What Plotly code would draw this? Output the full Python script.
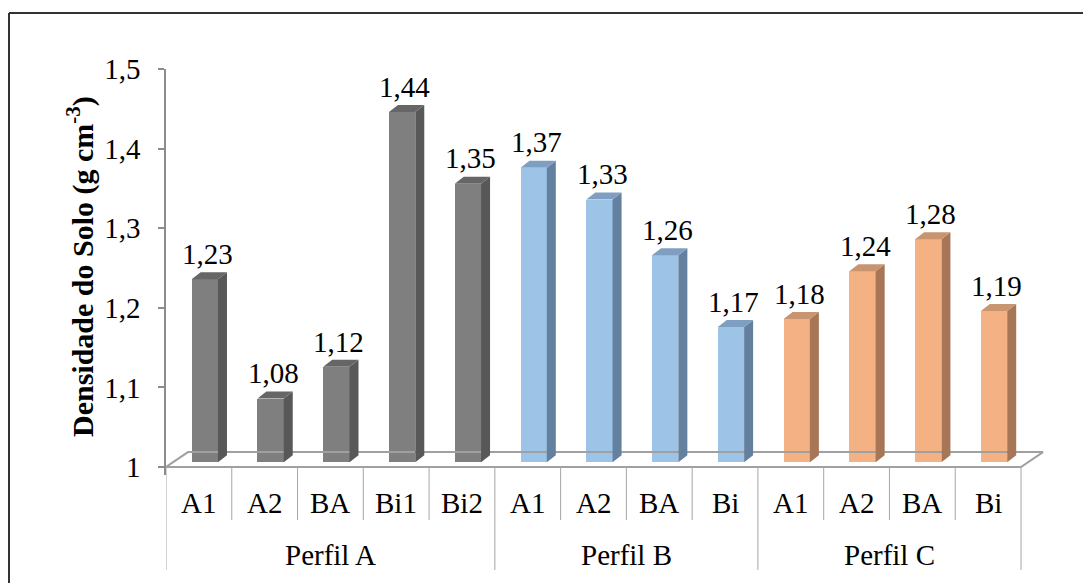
import plotly.graph_objects as go

# Soil bulk density per horizon, three profiles
profiles = ["Perfil A", "Perfil B", "Perfil C"]
horizons = [
    ["A1", "A2", "BA", "Bi1", "Bi2"],
    ["A1", "A2", "BA", "Bi"],
    ["A1", "A2", "BA", "Bi"],
]
density = [
    [1.23, 1.08, 1.12, 1.44, 1.35],
    [1.37, 1.33, 1.26, 1.17],
    [1.18, 1.24, 1.28, 1.19],
]
y_ticks = [1.0, 1.1, 1.2, 1.3, 1.4, 1.5]

# face colours per profile: front, side, top
palette = [
    ("#7f7f7f", "#585858", "#666666"),
    ("#9dc3e6", "#64809f", "#7f9fc2"),
    ("#f4b183", "#a67656", "#c99470"),
]

FONT = "'Liberation Serif', 'Times New Roman', Times, serif"
TXT = 29
BASE = 1.0
# pseudo-3D geometry in axis units
BAR_W = 0.40      # front-face width (category units)
BAR_SHIFT = 0.09  # front face offset inside its slot
LIFT = 0.006      # front face raised above floor front edge
DEPTH_X = 0.137   # bar depth, x component
DEPTH_Y = 0.0088  # bar depth, y component
FLOOR_X = 0.334   # floor depth, x component
FLOOR_Y = 0.0188  # floor depth, y component

W, H = 1083, 583
L, R, T, B = 166, 36, 69, 108
plot_w = W - L - R
plot_h = H - T - B
n_cat = sum(len(h) for h in horizons)
unit_px = 855 / n_cat
x_max = -0.5 + plot_w / unit_px


def py(pixel_y):
    """paper y for a pixel row"""
    return (H - B - pixel_y) / plot_h


def px(pixel_x):
    """paper x for a pixel column"""
    return (pixel_x - L) / plot_w


fig = go.Figure()

# floor parallelogram
x0, x1 = -0.5, n_cat - 0.5
fig.add_trace(go.Scatter(
    x=[x0, x1, x1 + FLOOR_X, x0 + FLOOR_X, x0],
    y=[BASE, BASE, BASE + FLOOR_Y, BASE + FLOOR_Y, BASE],
    mode="lines", line=dict(color="#a0a0a0", width=2),
    hoverinfo="skip", showlegend=False,
))

annotations = []
shapes = []
idx = 0
for g, (name, labels, vals) in enumerate(zip(profiles, horizons, density)):
    front, side, top = palette[g]
    xs = [idx + k + BAR_SHIFT for k in range(len(vals))]
    fig.add_trace(go.Bar(
        x=xs, y=[v - BASE for v in vals], base=[BASE + LIFT] * len(vals),
        width=BAR_W, marker=dict(color=front, line=dict(width=0)),
        showlegend=False, hoverinfo="skip",
    ))
    for xc, v in zip(xs, vals):
        left, right = xc - BAR_W / 2, xc + BAR_W / 2
        b0, t0 = BASE + LIFT, v + LIFT
        # side face
        fig.add_trace(go.Scatter(
            x=[right, right + DEPTH_X, right + DEPTH_X, right, right],
            y=[b0, b0 + DEPTH_Y, t0 + DEPTH_Y, t0, b0],
            fill="toself", fillcolor=side, mode="lines",
            line=dict(width=0, color=side), hoverinfo="skip", showlegend=False,
        ))
        # top face
        fig.add_trace(go.Scatter(
            x=[left, left + DEPTH_X, right + DEPTH_X, right, left],
            y=[t0, t0 + DEPTH_Y, t0 + DEPTH_Y, t0, t0],
            fill="toself", fillcolor=top, mode="lines",
            line=dict(width=0, color=top), hoverinfo="skip", showlegend=False,
        ))
        annotations.append(dict(
            x=xc + 0.04, y=v, xref="x", yref="y", yanchor="middle",
            yshift=30, showarrow=False,
            text=f"{v:.2f}".replace(".", ","),
            font=dict(family=FONT, size=TXT, color="black"),
        ))
    for k, lab in enumerate(labels):
        annotations.append(dict(
            x=idx + k, y=py(503), xref="x", yref="paper", yanchor="middle",
            showarrow=False, text=lab,
            font=dict(family=FONT, size=TXT, color="black"),
        ))
    annotations.append(dict(
        x=idx + (len(labels) - 1) / 2, y=py(555), xref="x", yref="paper",
        yanchor="middle", showarrow=False, text=name,
        font=dict(family=FONT, size=TXT, color="black"),
    ))
    idx += len(labels)

# category dividers; profile boundaries run down through the group row
bounds = set()
acc = 0
bounds.add(acc)
for labels in horizons:
    acc += len(labels)
    bounds.add(acc)
for i in range(n_cat + 1):
    y_end = py(570) if i in bounds else py(520)
    shapes.append(dict(
        type="line", xref="x", yref="paper", x0=i - 0.5, x1=i - 0.5,
        y0=py(467), y1=y_end, line=dict(color="#a6a6a6", width=1),
    ))

# outer frame (top and left edges visible)
shapes.append(dict(type="line", xref="paper", yref="paper",
                   x0=px(9), x1=px(1200), y0=py(13), y1=py(13),
                   line=dict(color="#333333", width=2)))
shapes.append(dict(type="line", xref="paper", yref="paper",
                   x0=px(9), x1=px(9), y0=py(13), y1=py(700),
                   line=dict(color="#333333", width=2)))

annotations.append(dict(
    x=px(80), y=py(267), xref="paper", yref="paper", textangle=-90,
    xanchor="center", yanchor="middle", showarrow=False,
    text="<b>Densidade do Solo (g cm<sup>-3</sup>)</b>",
    font=dict(family=FONT, size=30, color="black"),
))

fig.update_layout(
    width=W, height=H,
    margin=dict(l=L, r=R, t=T, b=B),
    plot_bgcolor="white", paper_bgcolor="white",
    barmode="overlay", bargap=0,
    annotations=annotations, shapes=shapes,
    showlegend=False,
    font=dict(family=FONT),
)
fig.update_xaxes(
    range=[-0.5, x_max], showline=False, showgrid=False, zeroline=False,
    showticklabels=False, ticks="",
)
fig.update_yaxes(
    range=[BASE - 0.01, 1.5], showgrid=False, zeroline=False,
    showline=True, linecolor="#8c8c8c", linewidth=1.5,
    ticks="outside", ticklen=6, tickcolor="#8c8c8c", tickwidth=1.5,
    tickvals=y_ticks,
    ticktext=[f"{t:g}".replace(".", ",") for t in y_ticks],
    tickfont=dict(family=FONT, size=TXT, color="black"),
    ticklabelstandoff=12,
)

fig.write_html("out.html")
